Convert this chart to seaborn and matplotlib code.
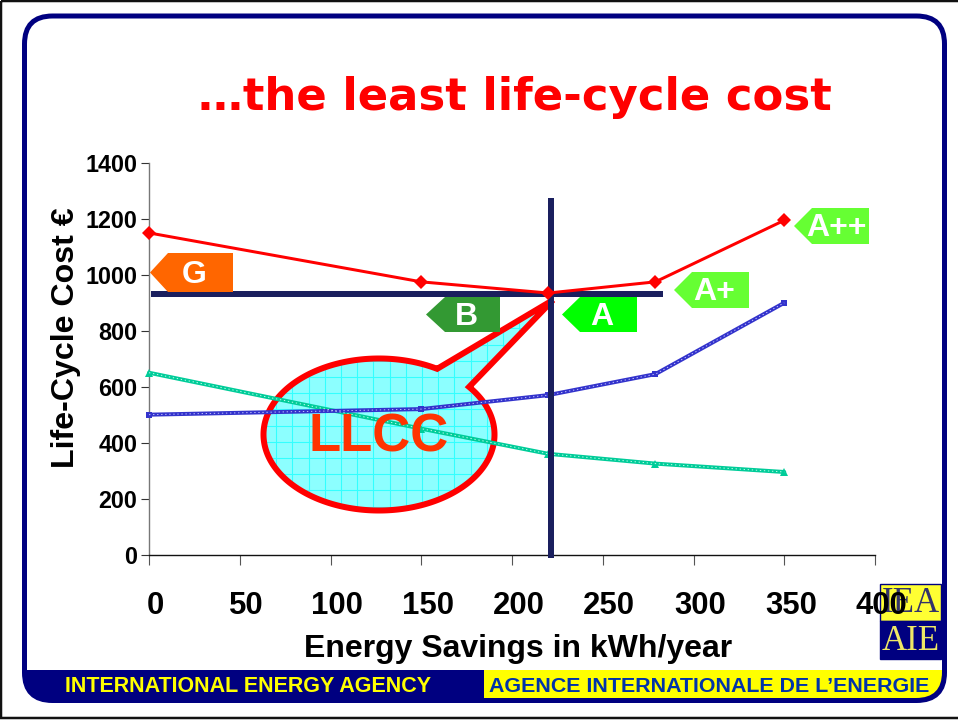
import numpy as np
import pandas as pd
import matplotlib
matplotlib.use("Agg")
import matplotlib.pyplot as plt
from matplotlib.patches import Polygon, Rectangle, FancyBboxPatch, PathPatch
from matplotlib.path import Path
from matplotlib.transforms import ScaledTranslation
import seaborn as sns

# ---- data ----
savings = [0, 150, 220, 279, 350]
llcc_cost = [1150, 975, 935, 975, 1195]
purchase_cost = [500, 520, 570, 645, 900]
running_cost = [650, 450, 360, 325, 295]
optimum_saving = 221.5
optimum_cost = 931
x_ticks = [0, 50, 100, 150, 200, 250, 300, 350, 400]
y_ticks = [0, 200, 400, 600, 800, 1000, 1200, 1400]
title = "…the least life-cycle cost"
x_label = "Energy Savings in kWh/year"
y_label = "Life-Cycle Cost €"
footer_en = "INTERNATIONAL ENERGY AGENCY"
footer_fr = "AGENCE INTERNATIONALE DE L’ENERGIE"

sns.set_theme(style="white")
plt.rcParams["font.family"] = ["Liberation Sans", "DejaVu Sans"]
W, H = 958, 720
NAVY = "#000080"
DARK = "#1A1F5E"
RED = "#FF0000"
px = 72 / 100  # one pixel in points

fig = plt.figure(figsize=(W / 100, H / 100), dpi=100, facecolor="white")

# ---- background layer in pixel coordinates ----
bg = fig.add_axes([0, 0, 1, 1], zorder=0)
bg.set_xlim(0, W); bg.set_ylim(H, 0); bg.axis("off")
bg.add_patch(Rectangle((0.5, 0.5), W + 5, 717.5, fc="none", ec="#111111", lw=2.5 * px, clip_on=False))
frame = dict(boxstyle="round,pad=0,rounding_size=28")
bg.add_patch(FancyBboxPatch((24.5, 16), 920, 684.5, fc="white", ec=NAVY, lw=5 * px, **frame))
# footer band, clipped to the rounded frame
clip = FancyBboxPatch((24.5, 16), 920, 684.5, fc="none", ec="none", transform=bg.transData, **frame)
bg.add_patch(clip)
band = Rectangle((22, 670), 926, 36, fc=NAVY, ec="none", zorder=2)
bg.add_patch(band); band.set_clip_path(clip)
clip2 = FancyBboxPatch((24.5, 16), 917.5, 682, boxstyle="round,pad=0,rounding_size=26",
                       fc="none", ec="none", transform=bg.transData)
bg.add_patch(clip2)
yel = Rectangle((484, 670), 460, 29, fc="#FFFF00", ec="none", zorder=3)
bg.add_patch(yel); yel.set_clip_path(clip2)
bg.text(248, 686.5, footer_en, color="#FFFF00", fontsize=15.5, fontweight="bold",
        ha="center", va="center", zorder=4)
bg.text(709.5, 686.5, footer_fr, color="#0033AA", fontsize=15.4, fontweight="bold",
        ha="center", va="center", zorder=4)

# logo
bg.add_patch(Rectangle((880, 584), 61, 37, fc="#FFFF33", ec=NAVY, lw=1, zorder=2))
bg.add_patch(Rectangle((880, 621), 61, 38, fc=NAVY, ec=NAVY, lw=1, zorder=2))
bg.text(910.5, 603, "IEA", color="#33336B", fontsize=25, family="Liberation Serif",
        ha="center", va="center", zorder=3)
bg.text(910.5, 641, "AIE", color="#EEE866", fontsize=25, family="Liberation Serif",
        ha="center", va="center", zorder=3)

# title
bg.text(514.5, 97.5, title, color=RED, fontsize=32.4, fontweight="bold",
        family="DejaVu Sans", ha="center", va="center", zorder=3)

# callout
cx, cy, a, b = 379, 434.5, 115.5, 76
ang1 = np.arctan2((369 - cy) / b, (437 - cx) / a)
ang2 = np.arctan2((387 - cy) / b, (469 - cx) / a)
arc = np.linspace(ang2, ang1 + 2 * np.pi, 300)
pts = np.column_stack([cx + a * np.cos(arc), cy + b * np.sin(arc)])
verts = np.vstack([pts, [[553, 300]], pts[:1]])
codes = [Path.MOVETO] + [Path.LINETO] * (len(verts) - 2) + [Path.CLOSEPOLY]
bubble_path = Path(verts, codes)
fill = PathPatch(bubble_path, fc="#8CFFFF", ec="none", zorder=5)
bg.add_patch(fill)
for gx in np.arange(260, 560, 16.2):
    ln = bg.axvline(gx, color="#33FFFF", lw=0.8, zorder=6); ln.set_clip_path(fill)
for gy in np.arange(296, 520, 16.2):
    ln = bg.axhline(gy, color="#33FFFF", lw=0.8, zorder=6); ln.set_clip_path(fill)
bg.add_patch(PathPatch(bubble_path, fc="none", ec=RED, lw=6 * px, joinstyle="miter", zorder=7))

# ---- chart ----
ax = fig.add_axes([149 / W, (H - 554.5) / H, (875 - 149) / W, (554.5 - 163) / H], zorder=2)
ax.patch.set_alpha(0)
df = pd.DataFrame({"x": savings, "llcc": llcc_cost, "purchase": purchase_cost, "running": running_cost})

sns.lineplot(data=df, x="x", y="running", ax=ax, color="#00CC99", lw=4 * px, marker="^",
             markersize=6, markeredgewidth=0, clip_on=False, zorder=3)
sns.lineplot(data=df, x="x", y="running", ax=ax, color="#CCFFEE", lw=0.9 * px, ls=(0, (1.5, 3)),
             clip_on=False, zorder=3.1)
sns.lineplot(data=df, x="x", y="purchase", ax=ax, color="#3333CC", lw=4 * px, marker="s",
             markersize=5, markeredgewidth=0, clip_on=False, zorder=3)
sns.lineplot(data=df, x="x", y="purchase", ax=ax, color="#CCCCFF", lw=0.9 * px, ls=(0, (1.5, 3)),
             clip_on=False, zorder=3.1)

ax.plot([optimum_saving, optimum_saving], [-14, 1275], color=DARK, lw=6 * px,
        solid_capstyle="butt", clip_on=False, zorder=3.5)
ax.plot([1, 283], [optimum_cost, optimum_cost], color=DARK, lw=6 * px,
        solid_capstyle="butt", clip_on=False, zorder=3.5)

sns.lineplot(data=df, x="x", y="llcc", ax=ax, color=RED, lw=3 * px, marker="D",
             markersize=7, markeredgewidth=0, clip_on=False, zorder=4)

ax.set_xlim(0, 400); ax.set_ylim(0, 1400)
ax.set_xticks(x_ticks); ax.set_yticks(y_ticks)
ax.set_xlabel(""); ax.set_ylabel("")
sns.despine(ax=ax)
ax.spines["left"].set_color("#777777"); ax.spines["left"].set_linewidth(1)
ax.spines["bottom"].set_color("#111111"); ax.spines["bottom"].set_linewidth(1)
ax.tick_params(axis="x", bottom=True, length=7.2, width=0.8, color="#555555", pad=19,
               labelsize=22.4)
ax.tick_params(axis="y", left=True, length=5.8, width=0.8, color="#333333", pad=2.5,
               labelsize=16.8)
off = ScaledTranslation(6.5 / 100, 0, fig.dpi_scale_trans)
for lab in ax.get_xticklabels():
    lab.set_fontweight("bold"); lab.set_color("black")
    lab.set_transform(lab.get_transform() + off)
for lab in ax.get_yticklabels():
    lab.set_fontweight("bold"); lab.set_color("black")

# ---- front layer ----
fg = fig.add_axes([0, 0, 1, 1], zorder=3)
fg.set_xlim(0, W); fg.set_ylim(H, 0); fg.axis("off")
fg.text(66, 338, y_label, rotation=90, fontsize=23.1, fontweight="bold", color="black",
        ha="center", va="center")
fg.text(518.5, 649.5, x_label, fontsize=23, fontweight="bold", color="black",
        ha="center", va="center")
fg.text(379, 438, "LLCC", color="#FF3300", fontsize=38, fontweight="bold", ha="center", va="center")

tags = [("G", 150, 168, 233, 253, 292, "#FF6600", 194),
        ("B", 426, 445, 500, 297, 332, "#339933", 466),
        ("A", 562, 580, 637, 297, 332, "#00FF00", 602),
        ("A+", 674, 692, 749, 272, 308, "#66FF33", 714),
        ("A++", 794, 812, 869, 208, 244, "#66FF33", 836)]
for name, tip, base, right, top, bot, col, tx in tags:
    fg.add_patch(Polygon([(tip, (top + bot) / 2), (base, top), (right, top), (right, bot), (base, bot)],
                         fc=col, ec="none", zorder=1))
    fg.text(tx, (top + bot) / 2 + 2.5, name, color="white", fontsize=23, fontweight="bold",
            ha="center", va="center", zorder=2)

fig.savefig("out.png", dpi=100)
